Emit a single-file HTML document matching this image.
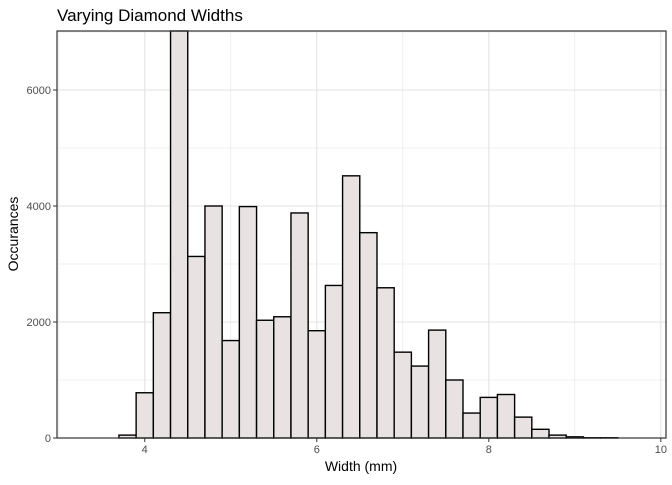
<!DOCTYPE html>
<html><head><meta charset="utf-8"><style>
body{margin:0;background:#fff;font-family:"Liberation Sans",sans-serif}
</style></head><body>
<svg id="chart" width="672" height="480" xmlns="http://www.w3.org/2000/svg">
<text x="57" y="21" font-size="17" fill="#000">Varying Diamond Widths</text>
<g id="grid"></g><g id="bars"></g><g id="axes"></g>
<text x="361" y="471" font-size="14" text-anchor="middle">Width (mm)</text>
<text transform="translate(18,234) rotate(-90)" font-size="14" text-anchor="middle">Occurances</text>
</svg>
<script>
const binStarts=[3.7,3.9,4.1,4.3,4.5,4.7,4.9,5.1,5.3,5.5,5.7,5.9,6.1,6.3,6.5,6.7,6.9,7.1,7.3,7.5,7.7,7.9,8.1,8.3,8.5,8.7,8.9,9.1,9.3];
const counts=[50,780,2160,7100,3130,4000,1680,3990,2030,2090,3880,1850,2630,4520,3540,2590,1480,1240,1860,1000,430,700,750,360,150,50,20,5,5];
const xTicks=[4,6,8,10];
const yTicks=[0,2000,4000,6000];
const binWidth=0.2;
const L=57,R=666,T=31,B=438;
const xMin=2.98,xMax=10.06,yMax=7017;
const sx=v=>L+(v-xMin)/(xMax-xMin)*(R-L);
const sy=v=>B-Math.min(v,yMax)/yMax*(B-T);
const NS="http://www.w3.org/2000/svg";
function mk(t,a,p){const e=document.createElementNS(NS,t);for(const k in a)e.setAttribute(k,a[k]);p.appendChild(e);return e;}
const grid=document.getElementById('grid'),bars=document.getElementById('bars'),axes=document.getElementById('axes');
mk('rect',{x:L,y:T,width:R-L,height:B-T,fill:'#fff'},grid);
for(let v=3;v<=10;v++){const l=mk('line',{x1:sx(v),x2:sx(v),y1:T,y2:B,stroke:'#e3e3e3','stroke-width':v%2?0.6:1.1},grid);

}
for(let v=0;v<=7000;v+=1000){const l=mk('line',{x1:L,x2:R,y1:sy(v),y2:sy(v),stroke:'#e3e3e3','stroke-width':v%2000?0.6:1.1},grid);

}
binStarts.forEach((s,i)=>{const x0=sx(s),x1=sx(s+binWidth),y=sy(counts[i]);
const r=mk('rect',{x:x0,y:y,width:x1-x0,height:B-y,fill:'#E8E2E2',stroke:'#000','stroke-width':1.4},bars);

});
mk('rect',{x:L,y:T,width:R-L,height:B-T,fill:'none',stroke:'#333','stroke-width':1.2},axes);
xTicks.forEach(v=>{mk('line',{x1:sx(v),x2:sx(v),y1:B,y2:B+4,stroke:'#333'},axes);
const t=mk('text',{x:sx(v),y:B+15,'font-size':11,'text-anchor':'middle',fill:'#4d4d4d'},axes);t.textContent=v;

});
yTicks.forEach(v=>{mk('line',{x1:L-4,x2:L,y1:sy(v),y2:sy(v),stroke:'#333'},axes);
const t=mk('text',{x:L-6,y:sy(v)+4,'font-size':11,'text-anchor':'end',fill:'#4d4d4d'},axes);t.textContent=v;

});
</script>
</body></html>
